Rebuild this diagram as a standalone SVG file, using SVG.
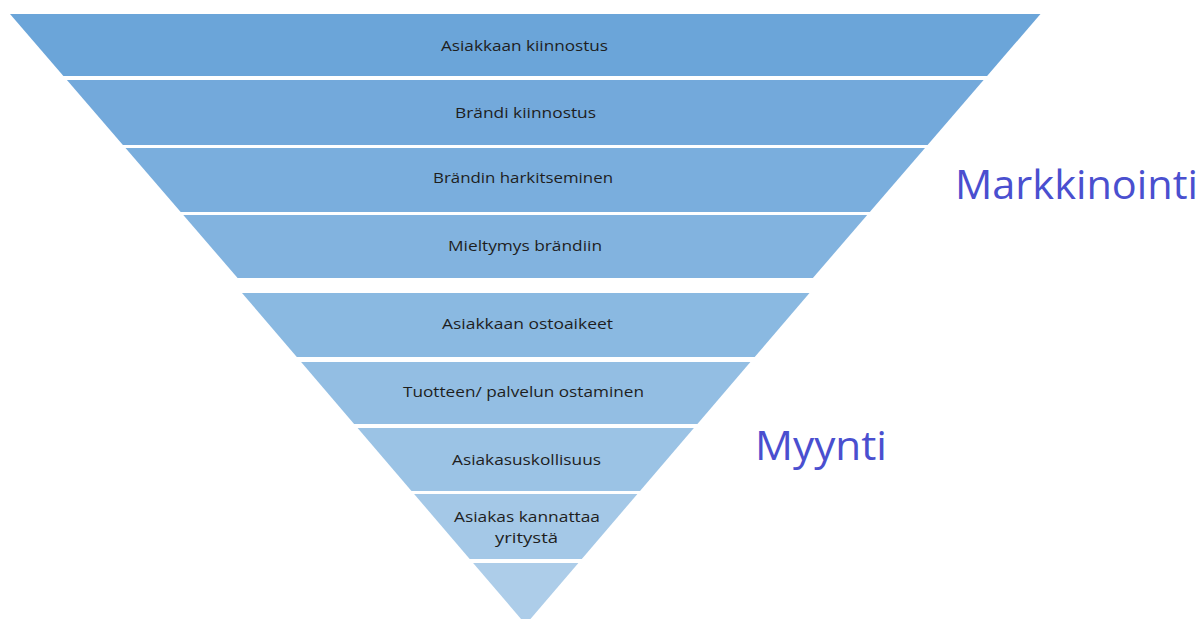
<svg xmlns="http://www.w3.org/2000/svg" width="1203" height="619" viewBox="0 0 1203 619">
<style>
.lbl{font-family:"Open Sans","Liberation Sans",sans-serif;font-size:14px;fill:#1e1e1e;text-anchor:middle}
.big{font-family:"Open Sans","Liberation Sans",sans-serif;fill:#4a4fcf}
</style>
<rect width="1203" height="619" fill="#ffffff"/>
<g id="band1"><polygon points="10,14 1040.5,14 987.1,76 63.4,76" fill="#6ba5d9"/><text class="lbl" x="524.5" y="51" textLength="167" lengthAdjust="spacingAndGlyphs">Asiakkaan kiinnostus</text></g>
<g id="band2"><polygon points="66.9,80 983.6,80 927.6,145 122.9,145" fill="#73a9db"/><text class="lbl" x="525.5" y="118" textLength="141" lengthAdjust="spacingAndGlyphs">Brändi kiinnostus</text></g>
<g id="band3"><polygon points="125.5,148 925,148 869.8,212 180.7,212" fill="#7aaedd"/><text class="lbl" x="523" y="183" textLength="180" lengthAdjust="spacingAndGlyphs">Brändin harkitseminen</text></g>
<g id="band4"><polygon points="183.3,215 867.2,215 812.9,278 237.6,278" fill="#82b3df"/><text class="lbl" x="525" y="251" textLength="154" lengthAdjust="spacingAndGlyphs">Mieltymys brändiin</text></g>
<g id="band5"><polygon points="242,293 809.5,293 754.7,357 296.8,357" fill="#8ab9e1"/><text class="lbl" x="527.5" y="329" textLength="171" lengthAdjust="spacingAndGlyphs">Asiakkaan ostoaikeet</text></g>
<g id="band6"><polygon points="301.1,362 750.4,362 697.4,424 354.1,424" fill="#93bee3"/><text class="lbl" x="523.5" y="397" textLength="241" lengthAdjust="spacingAndGlyphs">Tuotteen/ palvelun ostaminen</text></g>
<g id="band7"><polygon points="357.6,428 693.9,428 640,491 411.5,491" fill="#9bc3e5"/><text class="lbl" x="526.5" y="465" textLength="149" lengthAdjust="spacingAndGlyphs">Asiakasuskollisuus</text></g>
<g id="band8"><polygon points="414.1,494 637.4,494 581.8,559 469.7,559" fill="#a4c8e7"/><text class="lbl" x="527" y="522" textLength="146" lengthAdjust="spacingAndGlyphs">Asiakas kannattaa</text><text class="lbl" x="526.5" y="543" textLength="63" lengthAdjust="spacingAndGlyphs">yritystä</text></g>
<g id="band9"><polygon points="473.1,563 578.4,563 525.75,624.5" fill="#adcde9"/></g>
<g id="label-markkinointi"><text class="big" x="955" y="199" font-size="41" textLength="243" lengthAdjust="spacingAndGlyphs">Markkinointi</text></g>
<g id="label-myynti"><text class="big" x="755" y="460" font-size="41" textLength="132" lengthAdjust="spacingAndGlyphs">Myynti</text></g>
<g id="connectors"></g>
</svg>
